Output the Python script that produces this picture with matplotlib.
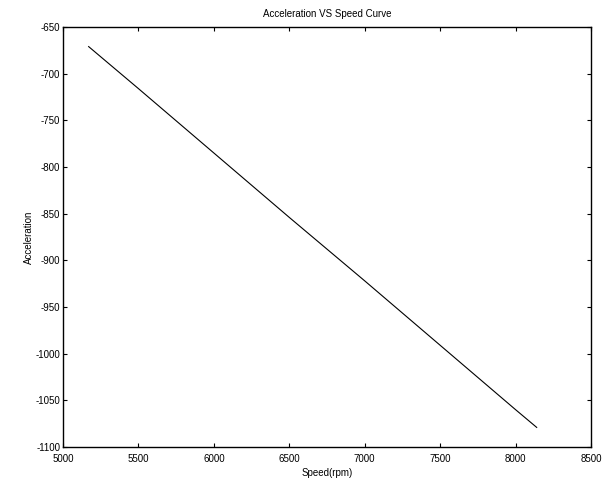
import matplotlib
matplotlib.use("Agg")
import matplotlib.pyplot as plt

speed = [5170, 5500, 6000, 6500, 7000, 7500, 8000, 8140]
accel = [-671, -716, -785, -854, -922, -991, -1060, -1079]

xticks = [5000, 5500, 6000, 6500, 7000, 7500, 8000, 8500]
yticks = [-650, -700, -750, -800, -850, -900, -950, -1000, -1050, -1100]

plt.rcParams['font.family'] = ['Liberation Sans', 'DejaVu Sans']
plt.rcParams['axes.unicode_minus'] = False
fig = plt.figure(figsize=(6.04, 4.83), dpi=100)
ax = fig.add_axes([63/604, 1-447/483, (591-63)/604, (447-27)/483])
ax.plot(speed, accel, color='black', linewidth=0.8)
ax.set_xlim(5000, 8500)
ax.set_ylim(-1100, -650)
ax.set_xticks(xticks)
ax.set_yticks(yticks)
ax.tick_params(direction='in', top=True, right=True, labelsize=7, length=3, width=0.8)
ax.tick_params(axis='x', pad=5)
ax.tick_params(axis='y', pad=2)
for s in ax.spines.values():
    s.set_linewidth(1.0)
ax.set_xlabel('Speed(rpm)', fontsize=7, labelpad=3)
ax.set_ylabel('Acceleration', fontsize=7, labelpad=1)
ax.set_title('Acceleration VS Speed Curve', fontsize=7, pad=7)
fig.savefig('out.png', dpi=100, facecolor='white')
